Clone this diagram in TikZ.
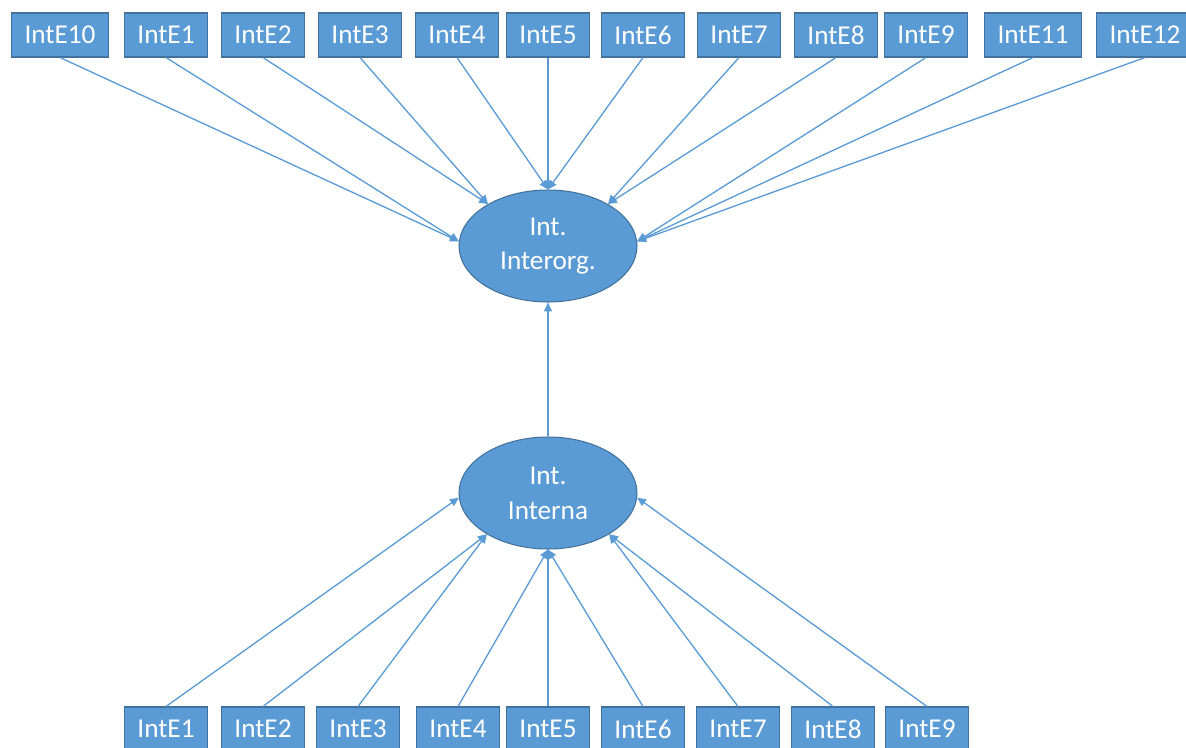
\documentclass[tikz,border=0pt]{standalone}
\usepackage{fontspec}
\setmainfont{Carlito}
\usetikzlibrary{arrows.meta,shapes.geometric}
\definecolor{boxblue}{HTML}{5B9BD5}
\definecolor{boxline}{HTML}{41719C}

\begin{document}
\begin{tikzpicture}[x=0.02cm, y=-0.02cm]
\fontsize{15.5}{19.8}\selectfont
\tikzset{itembox/.style={draw=boxline, fill=boxblue, text=white, minimum height=0.88cm, inner xsep=7.5pt, line width=0.6pt} }
\tikzset{factor/.style={ellipse, draw=boxline, fill=boxblue, text=white, minimum width=3.56cm, minimum height=2.24cm, align=center, line width=0.6pt} }
\tikzset{>={Triangle[width=4.5pt,length=5pt]}}
\tikzset{link/.style={->, boxblue, line width=0.75pt} }
\useasboundingbox (0,0) rectangle (1186,747);
% factors
\node[factor] (org) at (548,246) {Int.\\Interorg.};
\node[factor] (int) at (548,493) {Int.\\Interna};
% top row
\node[itembox] (t10) at (60,35)   {IntE10};
\node[itembox] (t1)  at (166,35)  {IntE1};
\node[itembox] (t2)  at (263,35)  {IntE2};
\node[itembox] (t3)  at (360,35)  {IntE3};
\node[itembox] (t4)  at (457,35)  {IntE4};
\node[itembox] (t5)  at (548,35)  {IntE5};
\node[itembox] (t6)  at (643,35)  {IntE6};
\node[itembox] (t7)  at (739,35)  {IntE7};
\node[itembox] (t8)  at (836,35)  {IntE8};
\node[itembox] (t9)  at (926,35)  {IntE9};
\node[itembox] (t11) at (1033,35) {IntE11};
\node[itembox] (t12) at (1145,35) {IntE12};
% bottom row
\node[itembox] (b1) at (166,729) {IntE1};
\node[itembox] (b2) at (263,729) {IntE2};
\node[itembox] (b3) at (358,729) {IntE3};
\node[itembox] (b4) at (458,729) {IntE4};
\node[itembox] (b5) at (548,729) {IntE5};
\node[itembox] (b6) at (643,729) {IntE6};
\node[itembox] (b7) at (738,729) {IntE7};
\node[itembox] (b8) at (833,729) {IntE8};
\node[itembox] (b9) at (927,729) {IntE9};
% top links
\path[link] (t10.south) edge (org.177);
\path[link] (t1.south)  edge (org.177);
\path[link] (t2.south)  edge (org.145);
\path[link] (t3.south)  edge (org.145);
\path[link] (t4.south)  edge (org.north);
\path[link] (t5.south)  edge (org.north);
\path[link] (t6.south)  edge (org.north);
\path[link] (t7.south)  edge (org.35);
\path[link] (t8.south)  edge (org.35);
\path[link] (t9.south)  edge (org.3);
\path[link] (t11.south) edge (org.3);
\path[link] (t12.south) edge (org.3);
% bottom links
\path[link] (b1.north) edge (int.183);
\path[link] (b2.north) edge (int.214);
\path[link] (b3.north) edge (int.214);
\path[link] (b4.north) edge (int.south);
\path[link] (b5.north) edge (int.south);
\path[link] (b6.north) edge (int.south);
\path[link] (b7.north) edge (int.326);
\path[link] (b8.north) edge (int.326);
\path[link] (b9.north) edge (int.357);
% factor to factor
\path[link] (int) edge (org);
\end{tikzpicture}
\end{document}
